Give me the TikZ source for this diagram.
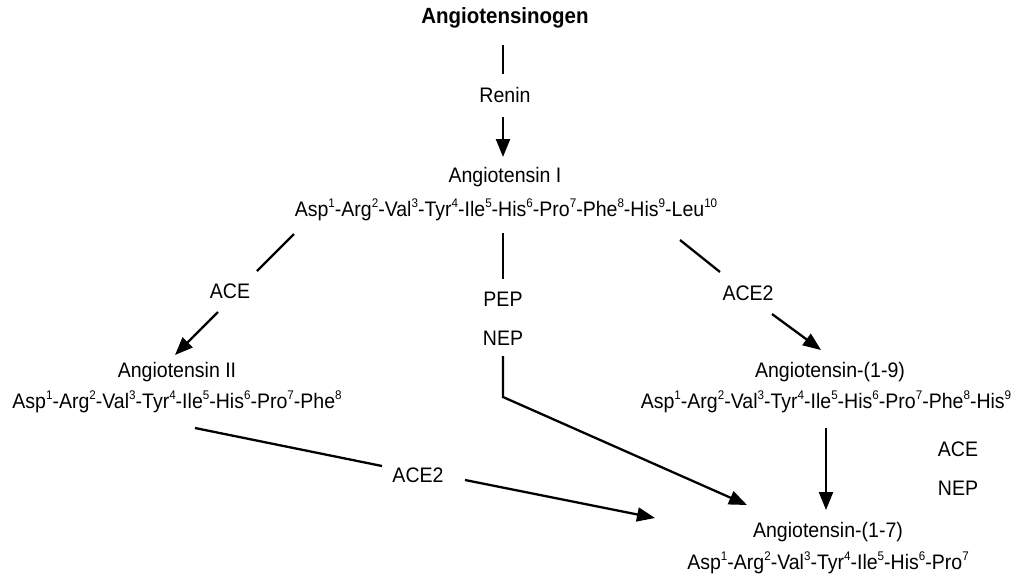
\documentclass[tikz,border=0pt]{standalone}
\usepackage{fontspec}
\setmainfont{Liberation Sans}[FakeStretch=0.93]
\usetikzlibrary{arrows.meta}
\newcommand{\sx}[1]{\raisebox{0.42em}{\fontsize{12.5}{12.5}\selectfont #1}}
\begin{document}
\begin{tikzpicture}[x=1pt,y=-1pt,
  lbl/.style={inner sep=0pt,font=\fontsize{21}{23}\selectfont},
  ln/.style={line width=2.3pt},
  arr/.style={line width=2.3pt,-{Triangle[length=18pt,width=14pt]}}]
\useasboundingbox (0,0) rectangle (1017,576);
\node[lbl,font=\fontsize{22}{24}\selectfont\bfseries] (agt) at (505,18) {Angiotensinogen};
\node[lbl] (renin) at (505,95) {Renin};
\node[lbl] (ang1) at (505,177) {Angiotensin I};
\node[lbl] (seq1) at (506,210) {Asp\sx{1}-Arg\sx{2}-Val\sx{3}-Tyr\sx{4}-Ile\sx{5}-His\sx{6}-Pro\sx{7}-Phe\sx{8}-His\sx{9}-Leu\sx{10}};
\node[lbl] (ace) at (230,291) {ACE};
\node[lbl] (pep) at (503,299) {PEP};
\node[lbl] (nep) at (503,338) {NEP};
\node[lbl] (ace2r) at (748,293) {ACE2};
\node[lbl] (ang2) at (177,372) {Angiotensin II};
\node[lbl] (seq2) at (177,402) {Asp\sx{1}-Arg\sx{2}-Val\sx{3}-Tyr\sx{4}-Ile\sx{5}-His\sx{6}-Pro\sx{7}-Phe\sx{8}};
\node[lbl] (ang19) at (830,372) {Angiotensin-(1-9)};
\node[lbl] (seq3) at (826,402) {Asp\sx{1}-Arg\sx{2}-Val\sx{3}-Tyr\sx{4}-Ile\sx{5}-His\sx{6}-Pro\sx{7}-Phe\sx{8}-His\sx{9}};
\node[lbl] (ace2l) at (418,475) {ACE2};
\node[lbl] (aceb) at (958,449) {ACE};
\node[lbl] (nepb) at (958,488) {NEP};
\node[lbl] (ang17) at (828,532) {Angiotensin-(1-7)};
\node[lbl] (seq4) at (828,563) {Asp\sx{1}-Arg\sx{2}-Val\sx{3}-Tyr\sx{4}-Ile\sx{5}-His\sx{6}-Pro\sx{7}};
% coordinates for connector ends
\coordinate (a1) at (503,45); \coordinate (a2) at (503,74);
\coordinate (b1) at (503,117); \coordinate (b2) at (503,157);
\coordinate (c1) at (294,234); \coordinate (c2) at (257,271);
\coordinate (d1) at (218,312); \coordinate (d2) at (175,355);
\coordinate (e1) at (503,233); \coordinate (e2) at (503,279);
\coordinate (f1) at (503,356); \coordinate (f2) at (503,397); \coordinate (f3) at (747,505);
\coordinate (g1) at (680,240); \coordinate (g2) at (720,272);
\coordinate (h1) at (772,314); \coordinate (h2) at (821,350);
\coordinate (i1) at (195,428); \coordinate (i2) at (382,466);
\coordinate (j1) at (465,480); \coordinate (j2) at (655,518);
\coordinate (k1) at (826,428); \coordinate (k2) at (826,510);
\draw[ln] (a1) -- (a2);
\draw[arr] (b1) -- (b2);
\draw[ln] (c1) -- (c2);
\draw[arr] (d1) -- (d2);
\draw[ln] (e1) -- (e2);
\draw[arr] (f1) -- (f2) -- (f3);
\draw[ln] (g1) -- (g2);
\draw[arr] (h1) -- (h2);
\draw[ln] (i1) -- (i2);
\draw[arr] (j1) -- (j2);
\draw[arr] (k1) -- (k2);
\end{tikzpicture}
\end{document}
